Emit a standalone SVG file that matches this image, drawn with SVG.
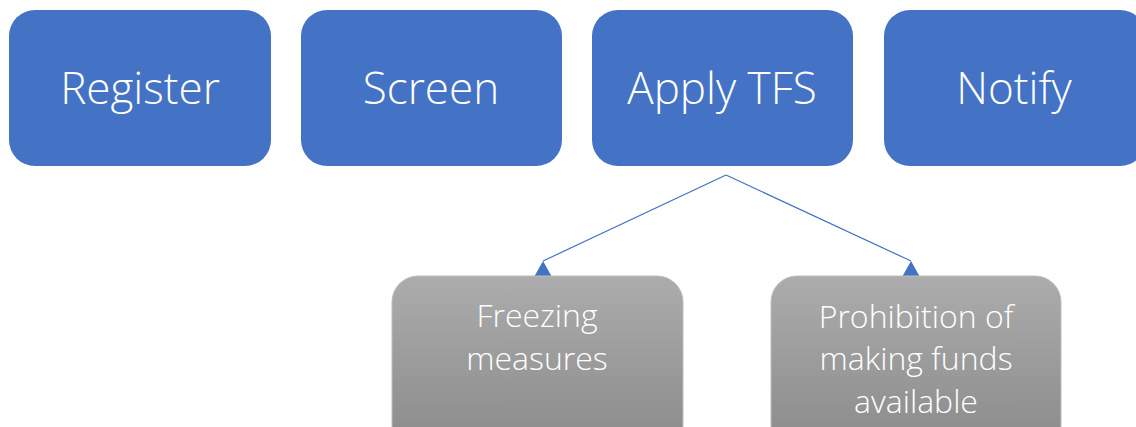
<svg xmlns="http://www.w3.org/2000/svg" width="1136" height="427" viewBox="0 0 1136 427">
<style>
.blue{fill:#4472C4;}
.gray{fill:url(#gg);stroke:#BDBDBD;stroke-width:1;}
.t1{font-family:"Open Sans","DejaVu Sans",sans-serif;font-weight:300;font-size:44px;fill:#FFFFFF;text-anchor:middle;}
.t2{font-family:"Open Sans","DejaVu Sans",sans-serif;font-weight:300;font-size:32px;fill:#FFFFFF;text-anchor:middle;}
.conn{stroke:#4472C4;stroke-width:1.2;fill:none;}
</style>
<defs>
<linearGradient id="gg" x1="0" y1="0" x2="0" y2="1">
<stop offset="0" stop-color="#ACACAC"/>
<stop offset="1" stop-color="#8A8A8A"/>
</linearGradient>
<marker id="ah" markerUnits="userSpaceOnUse" markerWidth="20" markerHeight="18" refX="9" refY="0" orient="0" viewBox="0 0 20 18" overflow="visible">
<polygon points="9,0 0,16 18,16" fill="#4472C4"/>
</marker>
</defs>
<rect width="1136" height="427" fill="#FFFFFF"/>
<g id="connectors">
<line class="conn" x1="726" y1="175" x2="543" y2="261" marker-end="url(#ah)"/>
<line class="conn" x1="726" y1="175" x2="911" y2="261" marker-end="url(#ah)"/>
</g>
<g id="register">
<rect class="blue" x="9" y="10" width="262" height="156" rx="26"/>
<text class="t1" x="140" y="104">Register</text>
</g>
<g id="screen">
<rect class="blue" x="301" y="10" width="261" height="156" rx="26"/>
<text class="t1" x="431" y="104">Screen</text>
</g>
<g id="apply">
<rect class="blue" x="592" y="10" width="261" height="156" rx="26"/>
<text class="t1" x="722" y="104">Apply TFS</text>
</g>
<g id="notify">
<rect class="blue" x="884" y="10" width="262" height="156" rx="26"/>
<text class="t1" x="1014" y="104">Notify</text>
</g>
<g id="freezing">
<rect class="gray" x="392" y="276" width="291" height="176" rx="26"/>
<text class="t2" x="537" y="327">Freezing</text>
<text class="t2" x="537" y="370">measures</text>
</g>
<g id="prohibition">
<rect class="gray" x="771" y="276" width="290" height="176" rx="26"/>
<text class="t2" x="916" y="328">Prohibition of</text>
<text class="t2" x="916" y="370">making funds</text>
<text class="t2" x="916" y="413">available</text>
</g>
</svg>
